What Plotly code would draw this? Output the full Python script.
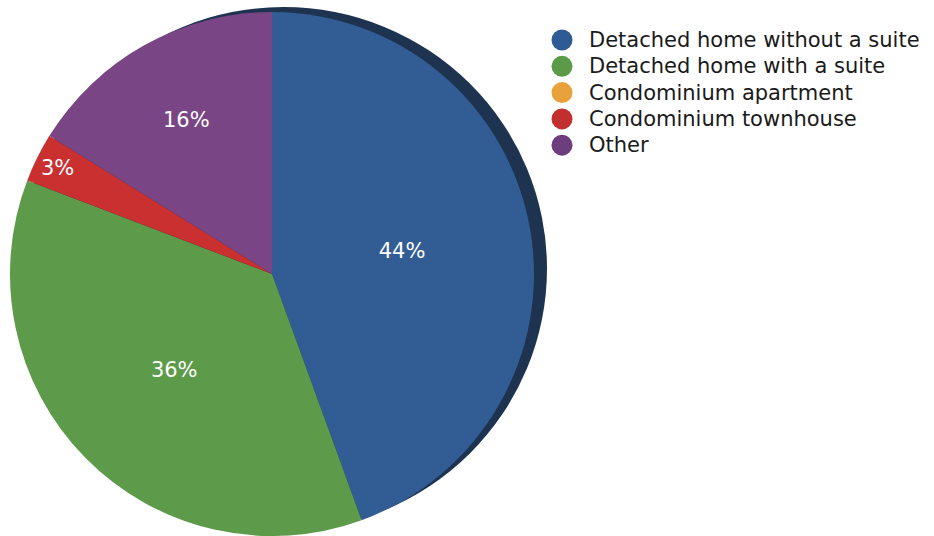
import plotly.graph_objects as go

# Share of homes by dwelling type (percent)
categories = [
    "Detached home without a suite",
    "Detached home with a suite",
    "Condominium apartment",
    "Condominium townhouse",
    "Other",
]
shares = [44, 36, 0, 3, 16]
colors = ["#325c94", "#5d9a4a", "#e9a23b", "#c9302f", "#7a4585"]
legend_colors = ["#2f5b94", "#5a9a48", "#e9a23b", "#c1302f", "#6e3d7e"]

W, H = 934, 536
FONT = "DejaVu Sans"

labels_text = [f"{v}%" if v > 0 else "" for v in shares]

fig = go.Figure(
    go.Pie(
        labels=categories,
        values=shares,
        sort=False,
        direction="clockwise",
        rotation=0,
        marker=dict(colors=colors, line=dict(width=0)),
        text=labels_text,
        textinfo="text",
        textposition="inside",
        insidetextorientation="horizontal",
        insidetextfont=dict(color="white", size=21, family=FONT),
        domain=dict(x=[10 / W, 534 / W], y=[0, 524 / H]),
        showlegend=False,
        hoverinfo="label+percent",
    )
)

shapes = [
    # dark rim behind the pie giving it a raised edge
    dict(
        type="circle", xref="paper", yref="paper", layer="below",
        x0=20 / W, x1=547 / W, y0=(H - 530) / H, y1=(H - 7) / H,
        fillcolor="#1e3350", line=dict(width=0),
    )
]
annotations = []

# Legend: circle swatch plus label per category
row0, step = 40, 26.3
for i, (name, col) in enumerate(zip(categories, legend_colors)):
    yc = row0 + i * step
    shapes.append(dict(
        type="circle", xref="paper", yref="paper",
        x0=(562 - 10.5) / W, x1=(562 + 10.5) / W,
        y0=(H - yc - 10.5) / H, y1=(H - yc + 10.5) / H,
        fillcolor=col, line=dict(width=0),
    ))
    annotations.append(dict(
        text=name, xref="paper", yref="paper",
        x=587 / W, y=(H - yc) / H, xanchor="left", yanchor="middle",
        showarrow=False, font=dict(family=FONT, size=21, color="#1a1a1a"),
    ))

fig.update_layout(
    width=W, height=H,
    margin=dict(l=0, r=0, t=0, b=0),
    paper_bgcolor="white",
    plot_bgcolor="white",
    shapes=shapes,
    annotations=annotations,
    font=dict(family=FONT),
)

fig.write_html("out.html")
